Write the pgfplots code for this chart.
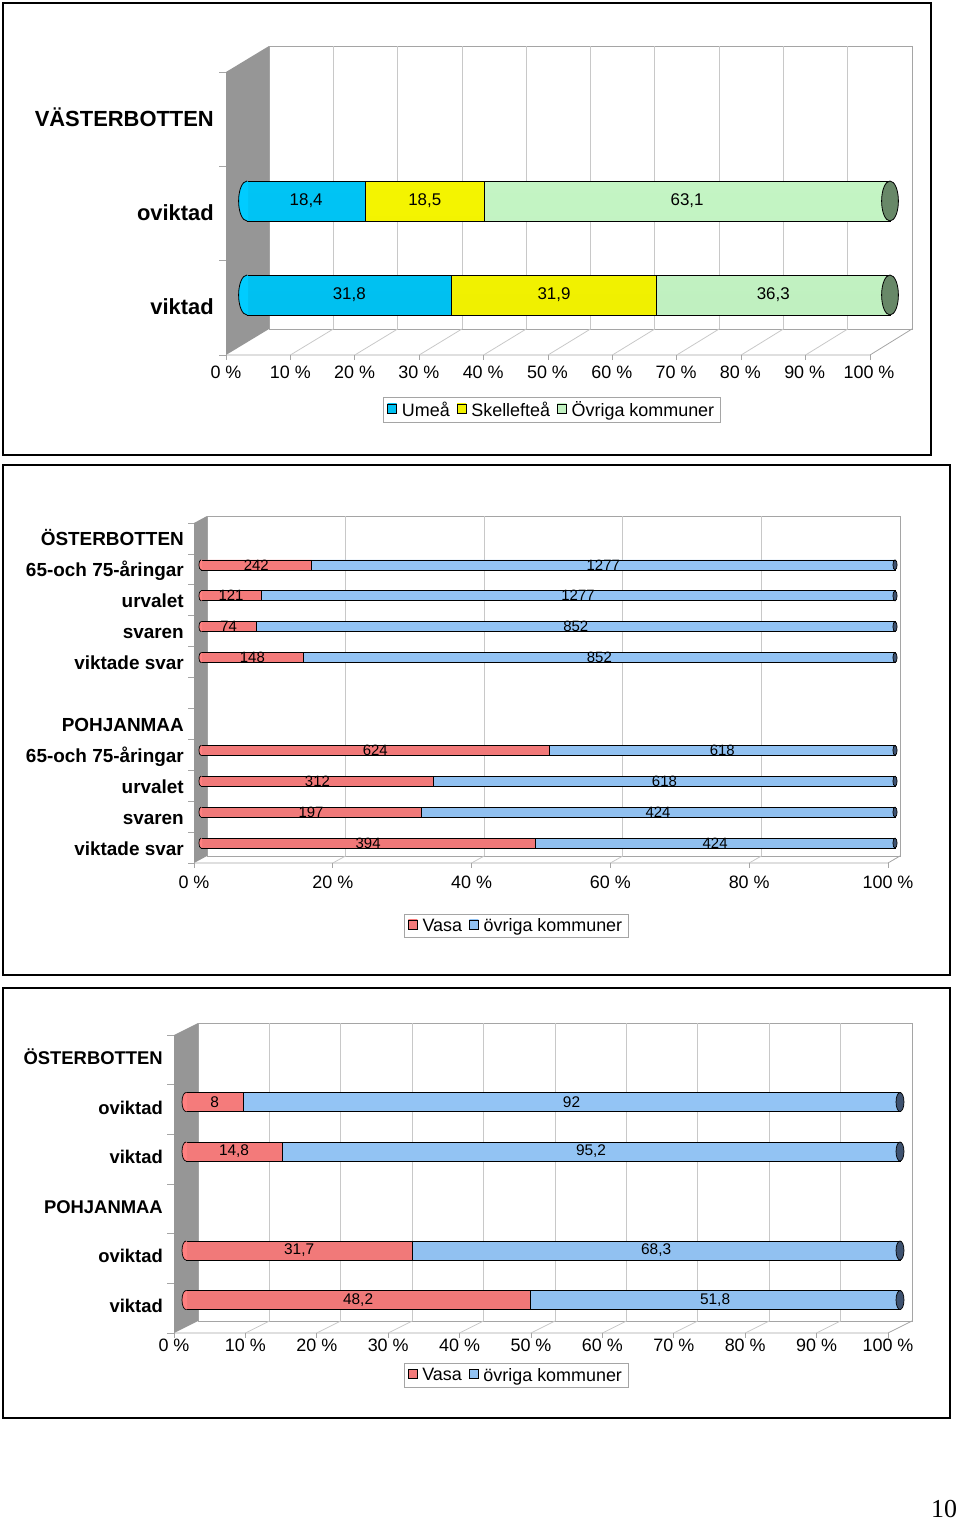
\documentclass[border=0pt]{standalone}
\usepackage{pgfplots}
\pgfplotsset{compat=1.18}
\usepackage{pgfplotstable}
\usepackage{fontspec}
\setmainfont{Liberation Sans}
\newfontfamily\seriffont{Liberation Serif}

\definecolor{umea}{RGB}{0,204,255}
\definecolor{skel}{RGB}{255,255,0}
\definecolor{ovr}{RGB}{204,255,204}
\definecolor{capG}{RGB}{104,136,104}
\definecolor{vasa}{RGB}{255,128,128}
\definecolor{blu}{RGB}{153,204,255}
\definecolor{capB}{RGB}{62,82,112}
\definecolor{wallc}{RGB}{150,150,150}
\definecolor{gridc}{RGB}{200,200,200}
\definecolor{backc}{RGB}{165,165,165}

% right end of a cylinder: full ellipse
\pgfdeclareplotmark{cap}{%
  \pgfpathellipse{\pgfpointorigin}{\pgfqpoint{0.42\pgfplotmarksize}{0pt}}{\pgfqpoint{0pt}{\pgfplotmarksize}}%
  \pgfusepathqfillstroke}
% left end of a cylinder: half ellipse bulge
\pgfdeclareplotmark{capL}{%
  \pgfpathmoveto{\pgfqpoint{0pt}{\pgfplotmarksize}}%
  \pgfpatharc{90}{270}{0.42\pgfplotmarksize and \pgfplotmarksize}%
  \pgfpathlineto{\pgfqpoint{1.2pt}{\dimexpr-\pgfplotmarksize+0.6pt\relax}}%
  \pgfpathlineto{\pgfqpoint{1.2pt}{\dimexpr\pgfplotmarksize-0.6pt\relax}}%
  \pgfpathclose
  \pgfusepathqfill
  \pgfpathmoveto{\pgfqpoint{0pt}{\pgfplotmarksize}}%
  \pgfpatharc{90}{270}{0.42\pgfplotmarksize and \pgfplotmarksize}%
  \pgfusepathqstroke}

% VÄSTERBOTTEN (percent)
\pgfplotstableread{
y u s o
0 31.8 31.9 36.3
1 18.4 18.5 63.1
}\vbdata
% ÖSTERBOTTEN / POHJANMAA counts
\pgfplotstableread{
y v o
9 242 1277
8 121 1277
7 74 852
6 148 852
3 624 618
2 312 618
1 197 424
0 394 424
}\obdata
% oviktad / viktad
\pgfplotstableread{
y v o
4 8 92
3 14.8 95.2
1 31.7 68.3
0 48.2 51.8
}\kdata

\pgfplotsset{
  base/.style={scale only axis, clip=false, axis line style={draw=none},
    tick style={draw=none}, major tick length=0pt, xmin=0, xmax=100,
    enlargelimits=false, anchor=south west, xtick=\empty, ytick=\empty},
  p1/.style={at={(247bp,-342bp)}, width=643bp, height=282bp, ymin=-0.5, ymax=2.5},
  p2/.style={at={(201bp,-858.5bp)}, width=694bp, height=340bp, ymin=-0.5, ymax=10.5},
  p3/.style={at={(186bp,-1324.75bp)}, width=714bp, height=297bp, ymin=-0.5, ymax=5.5},
  sq/.style={legend image code/.code={\draw[##1,draw=black,line width=0.6bp] (0bp,-3bp) rectangle (9bp,6bp);}},
  cyl/.style={top color=#1!96!black, middle color=#1!50!white, bottom color=#1!94!black},
  lab/.style={only marks, mark=none, point meta=explicit,
    nodes near coords={\pgfmathprintnumber[use comma,1000 sep={},assume math mode=true]{\pgfplotspointmeta}},
    every node near coord/.append style={anchor=center, inner sep=0pt, text=black, font=#1}},
  leg/.style={legend columns=-1, draw=backc, fill=white, inner xsep=4bp, inner ysep=2.5bp,
    font=\fontsize{18}{21}\selectfont,
    /tikz/every odd column/.append style={column sep=3bp},
    /tikz/every even column/.append style={column sep=5bp}},
}

\begin{document}
\begin{tikzpicture}
\path[use as bounding box] (0,0) rectangle (960bp,-1521bp);
\begin{scope}[x=1bp,y=-1bp]
 % ---------- panel 1 ----------
 \draw[line width=1.6bp] (3,3) rectangle (931,455);
 \draw[backc, fill=white, line width=0.8bp] (269,46) rectangle (912,329);
 \foreach \i in {1,...,9} \draw[gridc, line width=0.8bp] ({269+64.3*\i},46) -- ({269+64.3*\i},329);
 \draw[backc, line width=0.8bp] (226,355) -- (870,355) -- (912,329);
 \foreach \i in {1,...,9} \draw[gridc, line width=0.8bp] ({269+64.3*\i},329) -- ({226+64.4*\i},355);
 \foreach \i in {0,...,10} \draw[backc, line width=0.8bp] ({226+64.4*\i},355) -- ({226+64.4*\i},360);
 \fill[wallc] (226,72) -- (269,46) -- (269,329) -- (226,355) -- cycle;
 \foreach \yy in {72,166.3,260.7,355} \draw[backc, line width=0.8bp] (219,\yy) -- (226,\yy);
 % ---------- panel 2 ----------
 \draw[line width=1.6bp] (3,465) rectangle (950,975);
 \draw[backc, fill=white, line width=0.8bp] (207,516) rectangle (900,856);
 \foreach \i in {1,...,4} \draw[gridc, line width=0.8bp] ({207+138.6*\i},516) -- ({207+138.6*\i},856);
 \draw[backc, line width=0.8bp] (194,863) -- (888,863) -- (900,856);
 \foreach \i in {1,...,4} \draw[gridc, line width=0.8bp] ({207+138.6*\i},856) -- ({194+138.8*\i},863);
 \foreach \i in {0,...,5} \draw[backc, line width=0.8bp] ({194+138.8*\i},863) -- ({194+138.8*\i},868);
 \fill[wallc] (194,523) -- (207,516) -- (207,856) -- (194,863) -- cycle;
 \foreach \k in {0,...,11} \draw[backc, line width=0.8bp] (188,{523+30.9*\k}) -- (194,{523+30.9*\k});
 % ---------- panel 3 ----------
 \draw[line width=1.6bp] (3,988) rectangle (950,1418);
 \draw[backc, fill=white, line width=0.8bp] (198,1023) rectangle (912,1321);
 \foreach \i in {1,...,9} \draw[gridc, line width=0.8bp] ({198+71.4*\i},1023) -- ({198+71.4*\i},1321);
 \draw[backc, line width=0.8bp] (174,1333) -- (888,1333) -- (912,1321);
 \foreach \i in {1,...,9} \draw[gridc, line width=0.8bp] ({198+71.4*\i},1321) -- ({174+71.4*\i},1333);
 \foreach \i in {0,...,10} \draw[backc, line width=0.8bp] ({174+71.4*\i},1333) -- ({174+71.4*\i},1338);
 \fill[wallc] (174,1035) -- (198,1023) -- (198,1321) -- (174,1333) -- cycle;
 \foreach \k in {0,...,6} \draw[backc, line width=0.8bp] (167,{1035+49.67*\k}) -- (174,{1035+49.67*\k});
\end{scope}

% ================= PANEL 1 =================
\begin{axis}[base, p1, xbar stacked, bar width=40bp,
  ytick={0,1,2}, yticklabels={viktad,oviktad,VÄSTERBOTTEN},
  yticklabel style={anchor=base east, inner sep=0pt, xshift=-33bp, yshift=-19.5bp, font=\fontsize{22}{26}\selectfont\bfseries},
  xtick={0,10,...,100}, xticklabels={0 \%,10 \%,20 \%,30 \%,40 \%,50 \%,60 \%,70 \%,80 \%,90 \%,100 \%},
  xticklabel style={anchor=base, inner sep=0pt, xshift=-21bp, yshift=-36bp, font=\fontsize{18}{21}\selectfont},
  legend style={leg, at={(0.474,-0.195)}, anchor=north}]
\addplot[cyl=umea, draw=black, line width=0.8bp, sq] table[y=y, x expr={100*\thisrow{u}/(\thisrow{u}+\thisrow{s}+\thisrow{o})}] {\vbdata};
\addplot[cyl=skel, draw=black, line width=0.8bp, sq] table[y=y, x expr={100*\thisrow{s}/(\thisrow{u}+\thisrow{s}+\thisrow{o})}] {\vbdata};
\addplot[cyl=ovr, draw=black, line width=0.8bp, sq] table[y=y, x expr={100*\thisrow{o}/(\thisrow{u}+\thisrow{s}+\thisrow{o})}] {\vbdata};
\legend{Umeå,Skellefteå,Övriga kommuner}
\end{axis}
\begin{axis}[base, p1]
\addplot[only marks, mark=capL, mark size=20bp, mark options={fill=umea, draw=black, line width=0.8bp}] table[x expr=0, y=y] {\vbdata};
\addplot[only marks, mark=cap, mark size=20bp, mark options={fill=capG, draw=black, line width=0.8bp}] table[x expr=100, y=y] {\vbdata};
\addplot[lab={\fontsize{17}{20}\selectfont}] table[y=y, x expr={50*\thisrow{u}/(\thisrow{u}+\thisrow{s}+\thisrow{o})}, meta=u] {\vbdata};
\addplot[lab={\fontsize{17}{20}\selectfont}] table[y=y, x expr={100*(\thisrow{u}+0.5*\thisrow{s})/(\thisrow{u}+\thisrow{s}+\thisrow{o})}, meta=s] {\vbdata};
\addplot[lab={\fontsize{17}{20}\selectfont}] table[y=y, x expr={100*(\thisrow{u}+\thisrow{s}+0.5*\thisrow{o})/(\thisrow{u}+\thisrow{s}+\thisrow{o})}, meta=o] {\vbdata};
\end{axis}

% ================= PANEL 2 =================
\begin{axis}[base, p2, xbar stacked, bar width=10bp,
  ytick={0,...,10}, yticklabels={viktade svar,svaren,urvalet,65-och 75-åringar,POHJANMAA,{},viktade svar,svaren,urvalet,65-och 75-åringar,ÖSTERBOTTEN},
  yticklabel style={anchor=base east, inner sep=0pt, xshift=-17bp, yshift=-12bp, font=\fontsize{19}{22}\selectfont\bfseries},
  xtick={0,20,...,100}, xticklabels={0 \%,20 \%,40 \%,60 \%,80 \%,100 \%},
  xticklabel style={anchor=base, inner sep=0pt, xshift=-7bp, yshift=-30bp, font=\fontsize{18}{21}\selectfont},
  legend style={leg, at={(0.454,-0.163)}, anchor=north}]
\addplot[cyl=vasa, draw=black, line width=0.7bp, sq] table[y=y, x expr={100*\thisrow{v}/(\thisrow{v}+\thisrow{o})}] {\obdata};
\addplot[cyl=blu, draw=black, line width=0.7bp, sq] table[y=y, x expr={100*\thisrow{o}/(\thisrow{v}+\thisrow{o})}] {\obdata};
\legend{Vasa,övriga kommuner}
\end{axis}
\begin{axis}[base, p2]
\addplot[only marks, mark=capL, mark size=5bp, mark options={fill=vasa, draw=black, line width=0.7bp}] table[x expr=0, y=y] {\obdata};
\addplot[only marks, mark=cap, mark size=5bp, mark options={fill=capB, draw=black, line width=0.7bp}] table[x expr=100, y=y] {\obdata};
\addplot[lab={\fontsize{15}{18}\selectfont}] table[y=y, x expr={50*\thisrow{v}/(\thisrow{v}+\thisrow{o})}, meta=v] {\obdata};
\addplot[lab={\fontsize{15}{18}\selectfont}] table[y=y, x expr={100*(\thisrow{v}+0.5*\thisrow{o})/(\thisrow{v}+\thisrow{o})}, meta=o] {\obdata};
\end{axis}

% ================= PANEL 3 =================
\begin{axis}[base, p3, xbar stacked, bar width=19bp,
  ytick={0,...,5}, yticklabels={viktad,oviktad,POHJANMAA,viktad,oviktad,ÖSTERBOTTEN},
  yticklabel style={anchor=base east, inner sep=0pt, xshift=-23bp, yshift=-12bp, font=\fontsize{18.5}{22}\selectfont\bfseries},
  xtick={0,10,...,100}, xticklabels={0 \%,10 \%,20 \%,30 \%,40 \%,50 \%,60 \%,70 \%,80 \%,90 \%,100 \%},
  xticklabel style={anchor=base, inner sep=0pt, xshift=-12bp, yshift=-27bp, font=\fontsize{18}{21}\selectfont},
  legend style={leg, at={(0.462,-0.13)}, anchor=north}]
\addplot[cyl=vasa, draw=black, line width=0.7bp, sq] table[y=y, x expr={100*\thisrow{v}/(\thisrow{v}+\thisrow{o})}] {\kdata};
\addplot[cyl=blu, draw=black, line width=0.7bp, sq] table[y=y, x expr={100*\thisrow{o}/(\thisrow{v}+\thisrow{o})}] {\kdata};
\legend{Vasa,övriga kommuner}
\end{axis}
\begin{axis}[base, p3]
\addplot[only marks, mark=capL, mark size=9.5bp, mark options={fill=vasa, draw=black, line width=0.7bp}] table[x expr=0, y=y] {\kdata};
\addplot[only marks, mark=cap, mark size=9.5bp, mark options={fill=capB, draw=black, line width=0.7bp}] table[x expr=100, y=y] {\kdata};
\addplot[lab={\fontsize{15.5}{18}\selectfont}] table[y=y, x expr={50*\thisrow{v}/(\thisrow{v}+\thisrow{o})}, meta=v] {\kdata};
\addplot[lab={\fontsize{15.5}{18}\selectfont}] table[y=y, x expr={100*(\thisrow{v}+0.5*\thisrow{o})/(\thisrow{v}+\thisrow{o})}, meta=o] {\kdata};
\end{axis}

\node[font=\seriffont\fontsize{26}{28}\selectfont] at (944bp,-1509bp) {10};
\end{tikzpicture}
\end{document}
